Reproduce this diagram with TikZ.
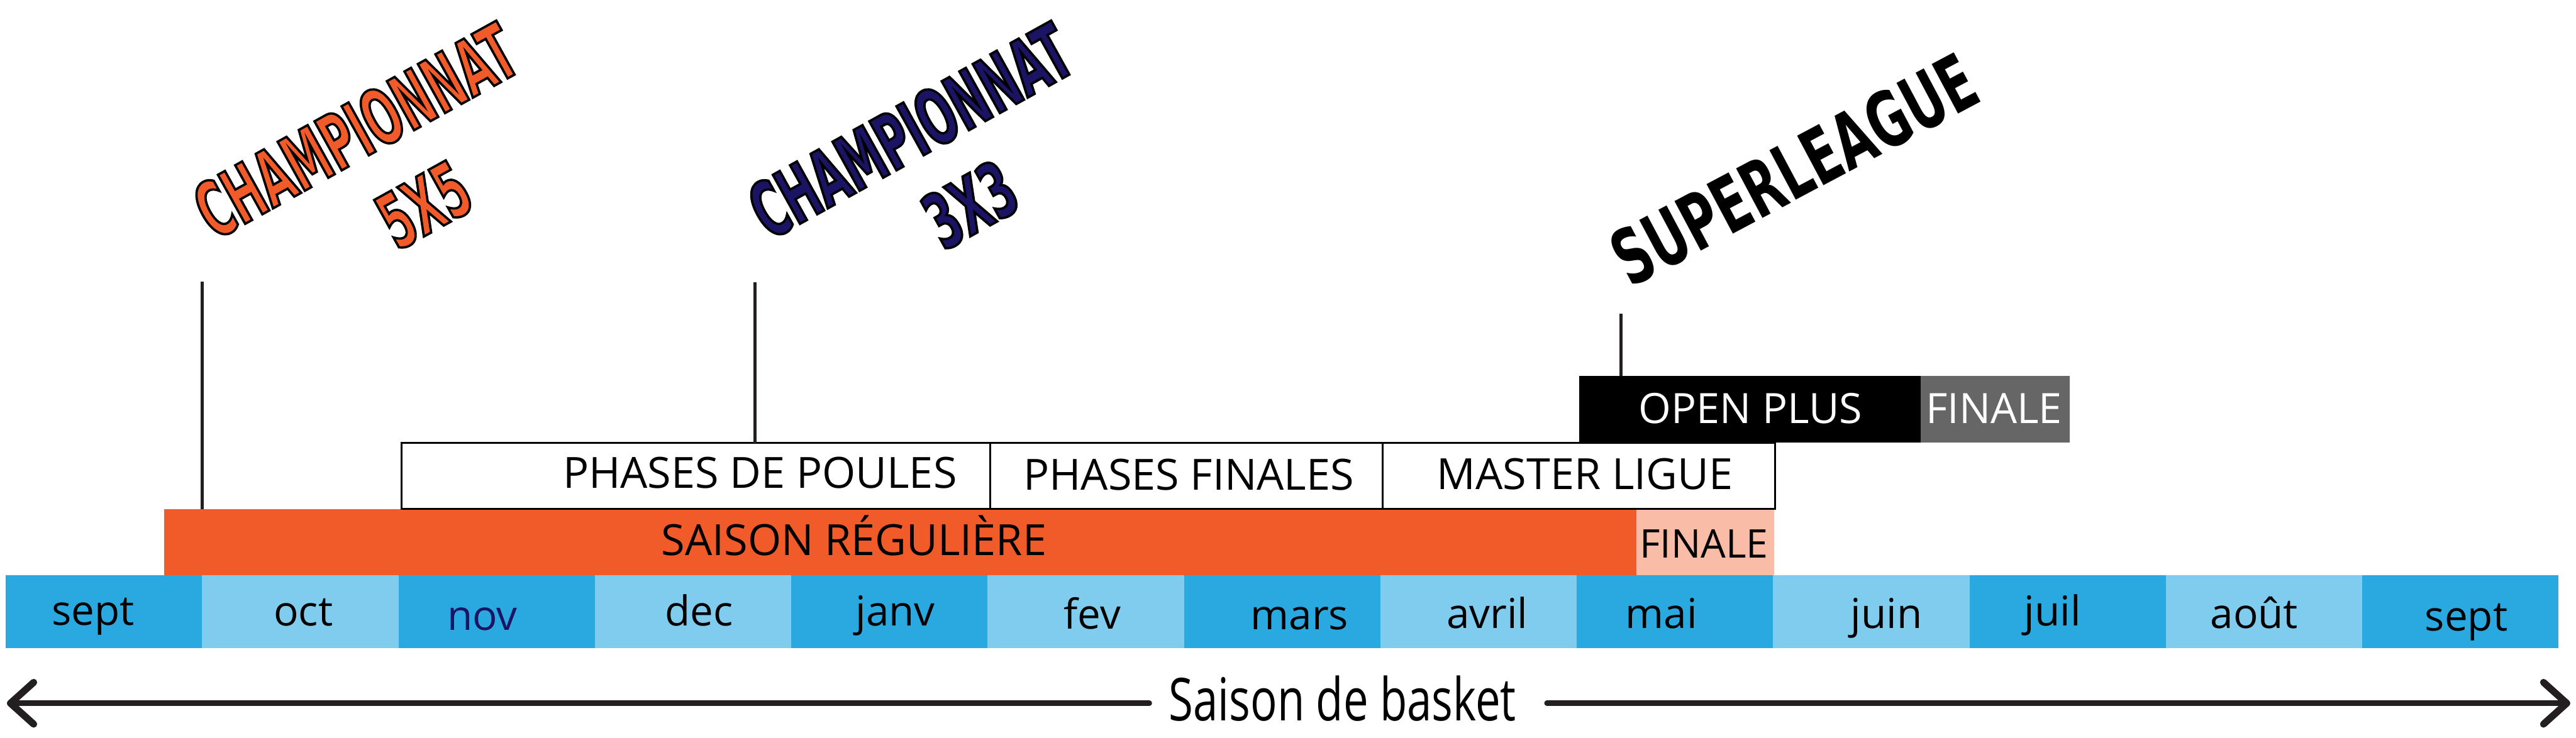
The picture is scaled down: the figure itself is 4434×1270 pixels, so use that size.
\documentclass[tikz,border=0pt]{standalone}
\usepackage{fontspec}
\setmainfont{Open Sans}
\newfontfamily\narrowfont{Open Sans}[FakeStretch=0.75]
\newfontfamily\titlefont{DejaVu Sans}[FakeStretch=0.55]
\newfontfamily\superfont{DejaVu Sans}[FakeStretch=0.64]
\usetikzlibrary{arrows.meta,calc}
\definecolor{mdark}{HTML}{29A9E0}
\definecolor{mlight}{HTML}{7FCCEE}
\definecolor{corange}{HTML}{F15A29}
\definecolor{cpink}{HTML}{F8BCA7}
\definecolor{cgrey}{HTML}{666666}
\definecolor{cnavy}{HTML}{1B1464}
\definecolor{cink}{HTML}{231F20}
% coloured text with a black outline: fill in #1, stroke in black
\newcommand\outl[2]{{\color{#1}\special{pdf:literal direct 0 0 0 RG}\addfontfeature{FakeBold=3}#2}}
\begin{document}
\begin{tikzpicture}[x=0.2pt,y=-0.2pt,
  cell/.style={minimum width=67.6pt, minimum height=25pt, inner sep=0pt, outer sep=0pt, draw=none},
  monthlbl/.style={anchor=base, inner sep=0pt, font=\fontsize{14.2pt}{16pt}\selectfont},
  barlbl/.style={anchor=base, inner sep=0pt, font=\fontsize{14.8pt}{17pt}\selectfont},
  bar/.style={minimum height=22.8pt, inner sep=0pt, outer sep=0pt, draw=none},
  phasebox/.style={draw=black, line width=0.6pt, fill=white, minimum height=22.6pt, inner sep=0pt, outer sep=0pt},
  topbox/.style={minimum height=23pt, inner sep=0pt, outer sep=0pt, draw=none},
  titlebig/.style={inner sep=0pt, rotate=29, font=\titlefont\bfseries\fontsize{26.5pt}{30pt}\selectfont},
  pin/.style={draw=cink, line width=1.1pt},
  brush/.style={draw=cink, line width=1.9pt, line cap=round},
  tipbarb/.style={-{Straight Barb[length=8pt,width=14.4pt,line width=2.4pt,round]}}
]
\useasboundingbox[fill=white] (0,0) rectangle (4434,1270);

% month cells
\node[cell,fill=mdark]  (m1)  at (179,1053.5) {};
\node[cell,fill=mlight] (m2)  at (517,1053.5) {};
\node[cell,fill=mdark]  (m3)  at (855,1053.5) {};
\node[cell,fill=mlight] (m4)  at (1193,1053.5) {};
\node[cell,fill=mdark]  (m5)  at (1531,1053.5) {};
\node[cell,fill=mlight] (m6)  at (1869,1053.5) {};
\node[cell,fill=mdark]  (m7)  at (2207,1053.5) {};
\node[cell,fill=mlight] (m8)  at (2545,1053.5) {};
\node[cell,fill=mdark]  (m9)  at (2883,1053.5) {};
\node[cell,fill=mlight] (m10) at (3221,1053.5) {};
\node[cell,fill=mdark]  (m11) at (3559,1053.5) {};
\node[cell,fill=mlight] (m12) at (3897,1053.5) {};
\node[cell,fill=mdark]  (m13) at (4235,1053.5) {};

% month labels
\node[monthlbl] (l1)  at (160,1076) {sept};
\node[monthlbl] (l2)  at (522,1078) {oct};
\node[monthlbl,text=cnavy] (l3)  at (830,1085) {nov};
\node[monthlbl] (l4)  at (1203,1078) {dec};
\node[monthlbl] (l5)  at (1541,1078) {janv};
\node[monthlbl] (l6)  at (1880,1083) {fev};
\node[monthlbl] (l7)  at (2237,1084) {mars};
\node[monthlbl] (l8)  at (2560,1082) {avril};
\node[monthlbl] (l9)  at (2860,1082) {mai};
\node[monthlbl] (l10) at (3247,1082) {juin};
\node[monthlbl] (l11) at (3533,1078) {juil};
\node[monthlbl] (l12) at (3880,1082) {août};
\node[monthlbl] (l13) at (4245,1086) {sept};

% season bars
\node[bar,fill=corange,minimum width=506.8pt] (reg) at (1550,934) {};
\node[bar,fill=cpink,minimum width=47.4pt] (regfin) at (2935.5,934) {};
\node[barlbl] (reglbl) at (1470,956) {SAISON RÉGULIÈRE};
\node[barlbl,font=\fontsize{13.6pt}{16pt}\selectfont] (regfinlbl) at (2933,961) {FINALE};

% phase boxes
\node[phasebox,minimum width=202.6pt] (p1) at (1197.5,819.5) {};
\node[phasebox,minimum width=135.2pt] (p2) at (2042,819.5) {};
\node[phasebox,minimum width=135pt]   (p3) at (2717.5,819.5) {};
\node[barlbl] (p1lbl) at (1308,841) {PHASES DE POULES};
\node[barlbl] (p2lbl) at (2046,844) {PHASES FINALES};
\node[barlbl] (p3lbl) at (2728,843) {MASTER LIGUE};

% superleague boxes
\node[topbox,fill=black,minimum width=117.6pt] (open) at (3012,704.5) {};
\node[topbox,fill=cgrey,minimum width=51.2pt] (sfin) at (3434,704.5) {};
\node[barlbl,text=white,font=\fontsize{14.4pt}{17pt}\selectfont] (openlbl) at (3013,729) {OPEN PLUS};
\node[barlbl,text=white,font=\fontsize{14.4pt}{17pt}\selectfont] (sfinlbl) at (3432,729) {FINALE};

% titles
\node[titlebig] (t5a) at (612,225) {\outl{corange}{CHAMPIONNAT}};
\node[titlebig] (t5b) at (730,353) {\outl{corange}{5X5}};
\node[titlebig] (t3a) at (1567,225) {\outl{cnavy}{CHAMPIONNAT}};
\node[titlebig] (t3b) at (1670,352) {\outl{cnavy}{3X3}};
\node[titlebig,rotate=-1,font=\superfont\bfseries\fontsize{26.5pt}{30pt}\selectfont] (tS) at (3088,292) {SUPERLEAGUE};

% pins
\coordinate (c5) at (348,485);
\coordinate (c3) at (1300,486);
\coordinate (cS) at (2790,540);
\draw[pin] (c5) -- (c5 |- reg.north);
\draw[pin] (c3) -- (c3 |- p1.north);
\draw[pin] (cS) -- (cS |- open.north);

% season arrow
\node[anchor=base,inner sep=0pt,font=\narrowfont\fontsize{20.4pt}{24pt}\selectfont] (saison) at (2311,1241) {Saison de basket};
\coordinate (arrL) at (12,1211);
\coordinate (arrR) at (4424,1211);
\draw[brush,tipbarb] ($(saison.west |- arrL)+(-33,0)$) -- (arrL);
\draw[brush,tipbarb] ($(saison.east |- arrR)+(52,0)$) -- (arrR);
\end{tikzpicture}
\end{document}
